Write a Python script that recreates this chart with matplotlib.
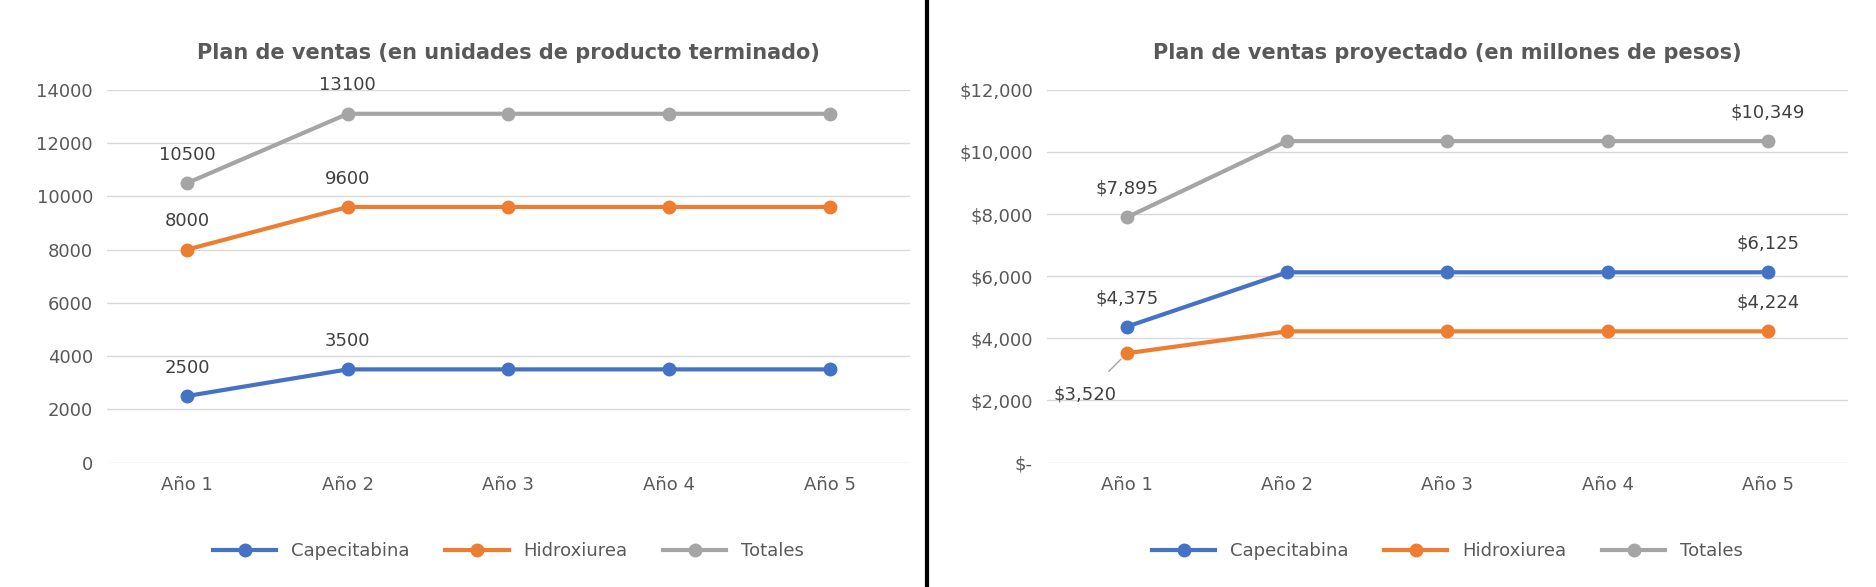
import numpy as np
import matplotlib.pyplot as plt

# Data
years = ['Año 1', 'Año 2', 'Año 3', 'Año 4', 'Año 5']
units = {'Capecitabina': [2500, 3500, 3500, 3500, 3500],
         'Hidroxiurea': [8000, 9600, 9600, 9600, 9600],
         'Totales': [10500, 13100, 13100, 13100, 13100]}
money = {'Capecitabina': [4375, 6125, 6125, 6125, 6125],
         'Hidroxiurea': [3520, 4224, 4224, 4224, 4224],
         'Totales': [7895, 10349, 10349, 10349, 10349]}
colors = {'Capecitabina': '#4472C4', 'Hidroxiurea': '#ED7D31', 'Totales': '#A5A5A5'}

plt.rcParams['font.family'] = 'DejaVu Sans'
fig = plt.figure(figsize=(18.76, 5.87), dpi=100)
x = np.arange(len(years))

def style_axes(ax, title):
    ax.set_title(title, fontsize=15, fontweight='bold', color='#595959', pad=22)
    for s in ax.spines.values():
        s.set_visible(False)
    ax.grid(axis='y', color='#D9D9D9', linewidth=1)
    ax.set_axisbelow(True)
    ax.tick_params(length=0, labelsize=13, colors='#595959', pad=10)
    ax.set_xticks(x)
    ax.set_xticklabels(years)
    ax.set_xlim(-0.5, 4.5)
    ax.legend(loc='upper center', bbox_to_anchor=(0.5, -0.17), ncol=3, frameon=False,
              fontsize=13, labelcolor='#595959', handlelength=3.5)

# Left chart: units
ax1 = fig.add_axes([0.057, 0.212, 0.428, 0.635])
for name, vals in units.items():
    ax1.plot(x, vals, '-o', color=colors[name], linewidth=3, markersize=9, label=name)
    for i in [0, 1]:
        ax1.annotate(str(vals[i]), (x[i], vals[i]), xytext=(0, 14), textcoords='offset points',
                     ha='center', va='bottom', fontsize=13, color='#404040')
ax1.set_ylim(0, 14000)
ax1.set_yticks(range(0, 14001, 2000))
style_axes(ax1, 'Plan de ventas (en unidades de producto terminado)')

# Right chart: money
ax2 = fig.add_axes([0.558, 0.212, 0.427, 0.635])
for name, vals in money.items():
    ax2.plot(x, vals, '-o', color=colors[name], linewidth=3, markersize=9, label=name)
for name, i in [('Capecitabina', 0), ('Capecitabina', 4), ('Totales', 0), ('Totales', 4), ('Hidroxiurea', 4)]:
    v = money[name][i]
    ax2.annotate('${:,}'.format(v), (x[i], v), xytext=(0, 14), textcoords='offset points',
                 ha='center', va='bottom', fontsize=13, color='#404040')
ax2.annotate('$3,520', (x[0], money['Hidroxiurea'][0]), xytext=(-30, -30), textcoords='offset points',
             ha='center', va='center', fontsize=13, color='#404040',
             arrowprops=dict(arrowstyle='-', color='#A5A5A5', shrinkA=12, shrinkB=6))
ax2.set_ylim(0, 12000)
ax2.set_yticks(range(0, 12001, 2000))
ax2.set_yticklabels(['$-'] + ['${:,}'.format(v) for v in range(2000, 12001, 2000)])
style_axes(ax2, 'Plan de ventas proyectado (en millones de pesos)')

# Black separator between the two charts
fig.add_artist(plt.Line2D([0.494, 0.494], [0, 1], color='black', linewidth=3, transform=fig.transFigure))

plt.savefig('out.png')
